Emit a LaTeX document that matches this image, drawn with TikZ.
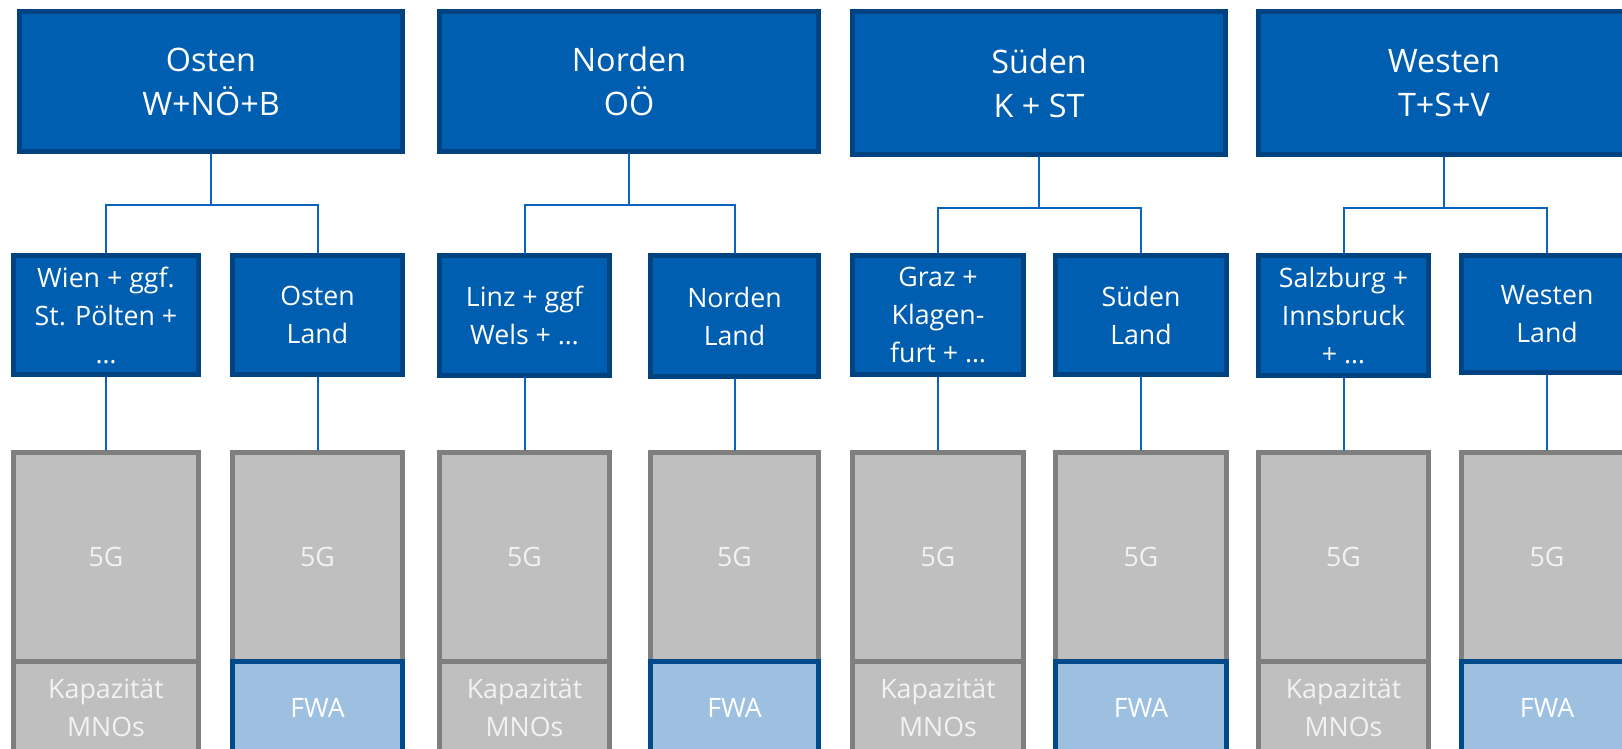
\documentclass[tikz,border=0pt]{standalone}
\usepackage{fontspec}
\setmainfont{Open Sans}
\usepackage{xcolor}

\definecolor{regblue}{RGB}{0,94,176}
\definecolor{regedge}{RGB}{0,67,128}
\definecolor{grayfill}{RGB}{191,191,191}
\definecolor{grayedge}{RGB}{127,127,127}
\definecolor{fwafill}{RGB}{157,192,225}
\definecolor{fwaedge}{RGB}{0,74,140}
\definecolor{linkblue}{RGB}{10,99,190}

\begin{document}
\begin{tikzpicture}[x=0.01cm,y=-0.01cm,line cap=round,
  region/.style={draw=regedge,fill=regblue,line width=0.05cm,text=white,align=center,
    inner sep=0pt,minimum width=3.79cm,minimum height=1.4cm,font=\fontsize{9.2}{12.5}\selectfont},
  sub/.style={draw=regedge,fill=regblue,line width=0.05cm,text=white,align=center,
    inner sep=0pt,minimum width=1.70cm,minimum height=1.19cm,font=\fontsize{7.6}{10.8}\selectfont},
  tech/.style={draw=grayedge,fill=grayfill,line width=0.05cm,text=white!95!black,align=center,
    inner sep=0pt,minimum width=1.70cm,minimum height=2.095cm,font=\fontsize{7.6}{10.8}\selectfont},
  mno/.style={tech,minimum height=0.91cm},
  fwa/.style={mno,draw=fwaedge,fill=fwafill,text=white},
  link/.style={draw=linkblue,line width=0.02cm}]
\clip (0,0) rectangle (1622,749);
% regions
\node[region,minimum width=3.83cm] (osten) at (211,81.5) {Osten\\W+NÖ+B};
\node[region] (norden) at (629,81.5) {Norden\\OÖ};
\node[region,minimum width=3.73cm,minimum height=1.43cm] (sueden) at (1039,83) {Süden\\K + ST};
\node[region,minimum width=3.71cm,minimum height=1.43cm] (westen) at (1444,83) {Westen\\T+S+V};
% cities and land
\node[sub,minimum width=1.85cm] (wien) at (106,315) {Wien + ggf.\\St. Pölten +\\…};
\node[sub] (ostenland) at (317.5,315) {Osten\\Land};
\node[sub] (linz) at (524.5,315.5) {Linz + ggf\\Wels + …};
\node[sub,minimum width=1.68cm,minimum height=1.21cm] (nordenland) at (734.5,316) {Norden\\Land};
\node[sub] (graz) at (938,315) {Graz +\\Klagen-\\furt + …};
\node[sub] (suedenland) at (1141,315) {Süden\\Land};
\node[sub] (salzburg) at (1343.5,315.5) {Salzburg +\\Innsbruck\\+ …};
\node[sub,minimum height=1.17cm] (westenland) at (1547,314) {Westen\\Land};
% technology columns
\node[tech,minimum width=1.85cm] (wien5g) at (106,557.25) {5G};
\node[mno,minimum width=1.85cm] (wienmno) at (106,707.5) {Kapazität\\MNOs};
\node[tech] (ostenland5g) at (317.5,557.25) {5G};
\node[fwa] (ostenfwa) at (317.5,707.5) {FWA};
\node[tech] (linz5g) at (524.5,557.25) {5G};
\node[mno] (linzmno) at (524.5,707.5) {Kapazität\\MNOs};
\node[tech,minimum width=1.68cm] (nordenland5g) at (734.5,557.25) {5G};
\node[fwa,minimum width=1.68cm] (nordenfwa) at (734.5,707.5) {FWA};
\node[tech] (graz5g) at (938,557.25) {5G};
\node[mno] (grazmno) at (938,707.5) {Kapazität\\MNOs};
\node[tech] (suedenland5g) at (1141,557.25) {5G};
\node[fwa] (suedenfwa) at (1141,707.5) {FWA};
\node[tech] (salzburg5g) at (1343.5,557.25) {5G};
\node[mno] (salzburgmno) at (1343.5,707.5) {Kapazität\\MNOs};
\node[tech] (westenland5g) at (1547,557.25) {5G};
\node[fwa] (westenfwa) at (1547,707.5) {FWA};
% connectors
\draw[link] (osten.south) -- ++(0,51) coordinate (ostenbus) -| (wien.north) (ostenbus) -| (ostenland.north);
\draw[link] (norden.south) -- ++(0,51) coordinate (nordenbus) -| (linz.north) (nordenbus) -| (nordenland.north);
\draw[link] (sueden.south) -- ++(0,51) coordinate (suedenbus) -| (graz.north) (suedenbus) -| (suedenland.north);
\draw[link] (westen.south) -- ++(0,51) coordinate (westenbus) -| (salzburg.north) (westenbus) -| (westenland.north);
\draw[link] (wien.south) -- (wien5g.north);
\draw[link] (ostenland.south) -- (ostenland5g.north);
\draw[link] (linz.south) -- (linz5g.north);
\draw[link] (nordenland.south) -- (nordenland5g.north);
\draw[link] (graz.south) -- (graz5g.north);
\draw[link] (suedenland.south) -- (suedenland5g.north);
\draw[link] (salzburg.south) -- (salzburg5g.north);
\draw[link] (westenland.south) -- (westenland5g.north);
\end{tikzpicture}
\end{document}
